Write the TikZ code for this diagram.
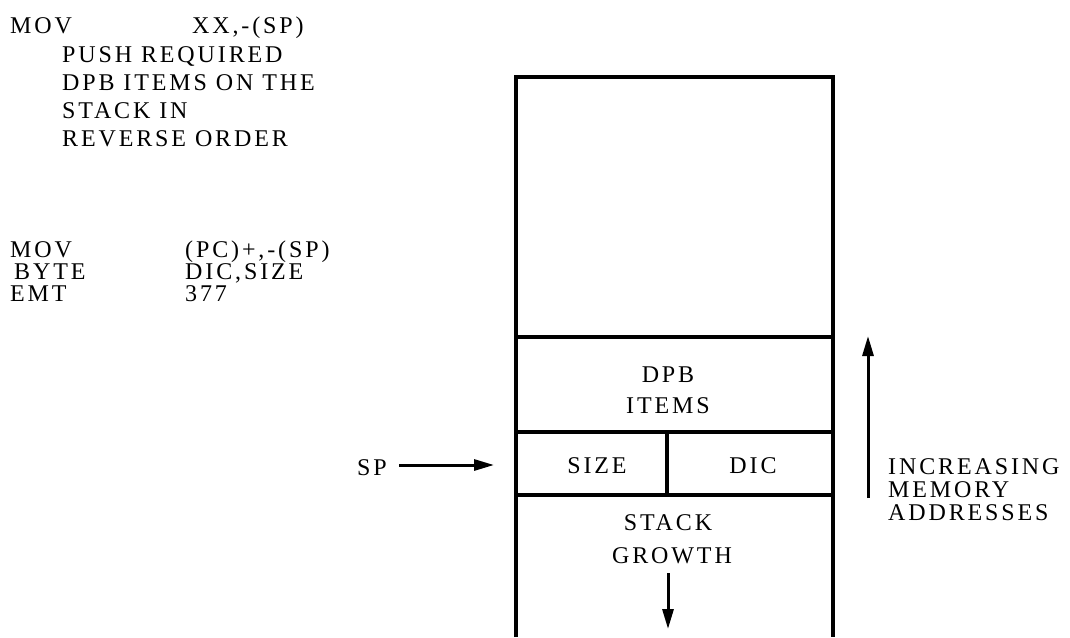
\documentclass[tikz,border=0pt]{standalone}
\usepackage{fontspec}
\setmainfont{Liberation Serif}[LetterSpace=12]
\usetikzlibrary{arrows.meta}
\begin{document}
\begin{tikzpicture}[x=1pt,y=-1pt,
  txt/.style={anchor=base west,inner sep=0pt,font=\fontsize{24}{26}\selectfont},
  ctxt/.style={anchor=base,inner sep=0pt,font=\fontsize{24}{26}\selectfont},
  frame/.style={line width=3.4pt},
  arr/.style={line width=3pt,-{Triangle[length=20pt,width=11pt]}}]
\useasboundingbox (0,0) rectangle (1070,637);
% left code text
\node[txt] (m1) at (10,33) {MOV};
\node[txt] (m1a) at (192,33) {XX,-(SP)};
\node[txt] (c1) at (62,62) {PUSH REQUIRED};
\node[txt] (c2) at (62,90) {DPB ITEMS ON THE};
\node[txt] (c3) at (62,118) {STACK IN};
\node[txt] (c4) at (62,146) {REVERSE ORDER};
\node[txt] (m2) at (10,257) {MOV};
\node[txt] (m2a) at (185,257) {(PC)+,-(SP)};
\node[txt] (b1) at (14,279) {BYTE};
\node[txt] (b1a) at (185,279) {DIC,SIZE};
\node[txt] (e1) at (10,301) {EMT};
\node[txt] (e1a) at (185,301) {377};
% stack frame
\draw[frame] (516,637) -- (516,77) -- (833,77) -- (833,637);
\draw[frame] (516,337) -- (833,337);
\draw[frame] (516,432) -- (833,432);
\draw[frame] (516,495) -- (833,495);
\draw[frame] (667,432) -- (667,495);
\node[ctxt] (dpb) at (668,382) {DPB};
\node[ctxt] (items) at (668,413) {ITEMS};
\node[ctxt] (size) at (597,473) {SIZE};
\node[ctxt] (dic) at (753,473) {DIC};
\node[ctxt] (stack) at (668,530) {STACK};
\node[ctxt] (growth) at (672,563) {GROWTH};
\coordinate (gtop) at (668,573);
\coordinate (gbot) at (668,629);
\draw[arr] (gtop) -- (gbot);
% SP pointer
\node[txt] (sp) at (357,475) {SP};
\coordinate (spend) at (494,465);
\draw[arr] (399,465) -- (spend);
% increasing arrow
\coordinate (ibot) at (868,498);
\coordinate (itop) at (868,336);
\draw[arr] (ibot) -- (itop);
\node[txt] (inc) at (888,474) {INCREASING};
\node[txt] (mem) at (888,497) {MEMORY};
\node[txt] (addr) at (888,520) {ADDRESSES};
\end{tikzpicture}
\end{document}
